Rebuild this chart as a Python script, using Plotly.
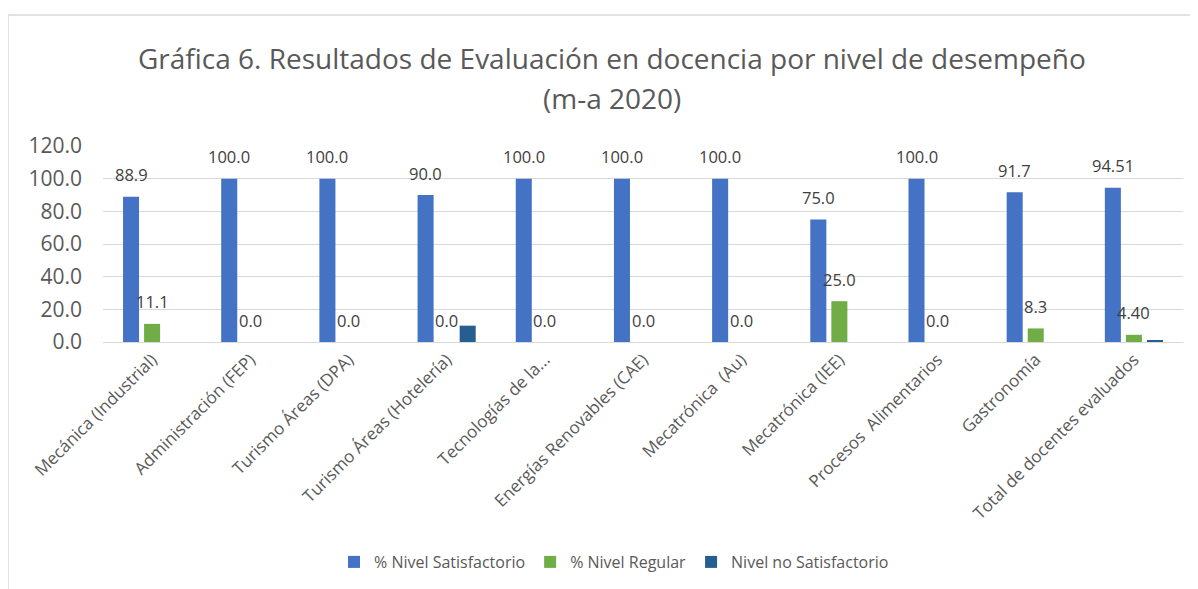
import plotly.graph_objects as go

categories = [
    "Mecánica (Industrial)", "Administración (FEP)", "Turismo Áreas (DPA)",
    "Turismo Áreas (Hotelería)", "Tecnologías de la...", "Energías Renovables (CAE)",
    "Mecatrónica  (Au)", "Mecatrónica (IEE)", "Procesos  Alimentarios",
    "Gastronomía", "Total de docentes evaluados",
]
satisfactorio = [88.9, 100.0, 100.0, 90.0, 100.0, 100.0, 100.0, 75.0, 100.0, 91.7, 94.51]
regular = [11.1, 0.0, 0.0, 0.0, 0.0, 0.0, 0.0, 25.0, 0.0, 8.3, 4.40]
no_satisfactorio = [0.0, 0.0, 0.0, 10.0, 0.0, 0.0, 0.0, 0.0, 0.0, 0.0, 1.1]
label_decimals = [1, 1, 1, 1, 1, 1, 1, 1, 1, 1, 2]
y_ticks = [0, 20, 40, 60, 80, 100, 120]

FONT = "Open Sans"
W, H = 1198, 589
OFF = 8  # page body margin
# target screenshot coordinates of plot area
PX0, PX1, PY0, PY1 = 103, 1183, 146, 342
L = PX0 - OFF
R = W - (PX1 - OFF)
T = PY0 - OFF
B = H - (PY1 - OFF)
plot_h = PY1 - PY0
plot_w = PX1 - PX0


def px_to_paper_x(px):
    return (px - PX0) / plot_w


def py_to_paper_y(py):
    return (PY1 - py) / plot_h


fig = go.Figure()
series = [
    ("% Nivel Satisfactorio", satisfactorio, "#4472C4"),
    ("% Nivel Regular", regular, "#70AD47"),
    ("Nivel no Satisfactorio", no_satisfactorio, "#255E91"),
]
for name, vals, col in series:
    fig.add_trace(go.Bar(x=categories, y=vals, name=name, marker_color=col,
                         marker_line_width=0))

cat_w = plot_w / len(categories)
bargap = 0.357
slot = cat_w * (1 - bargap) / 3

annotations = []
for si, vals in enumerate([satisfactorio, regular]):
    shift = (si - 1) * slot
    for c, v, d in zip(categories, vals, label_decimals):
        annotations.append(dict(
            x=c, y=v, xref="x", yref="y", text=f"{v:.{d}f}", showarrow=False,
            xshift=shift, yshift=22, yanchor="middle",
            font=dict(family=FONT, size=16.5, color="#404040")))

annotations.append(dict(
    x=px_to_paper_x(612), y=py_to_paper_y(98), xref="paper", yref="paper",
    xanchor="center", yanchor="middle", showarrow=False,
    text="(m-a 2020)", font=dict(family=FONT, size=28, color="#595959")))
annotations.append(dict(
    x=px_to_paper_x(612), y=py_to_paper_y(58), xref="paper", yref="paper",
    xanchor="center", yanchor="middle", showarrow=False,
    text="Gráfica 6. Resultados de Evaluación en docencia por nivel de desempeño",
    font=dict(family=FONT, size=28, color="#595959")))

fig.update_layout(
    width=W, height=H,
    margin=dict(l=L, r=R, t=T, b=B, autoexpand=False),
    paper_bgcolor="white", plot_bgcolor="white",
    barmode="group", bargap=bargap, bargroupgap=0.238,
    font=dict(family=FONT, color="#595959"),
    showlegend=True,
    legend=dict(orientation="h", x=px_to_paper_x(614), xanchor="center",
                y=py_to_paper_y(562), yanchor="middle",
                font=dict(family=FONT, size=16, color="#595959"),
                itemwidth=30, tracegroupgap=0),
    annotations=annotations,
    shapes=[
        dict(type="line", xref="paper", yref="paper",
             x0=px_to_paper_x(8), x1=px_to_paper_x(W + 20),
             y0=py_to_paper_y(15), y1=py_to_paper_y(15),
             line=dict(color="#d9d9d9", width=1.5)),
        dict(type="line", xref="paper", yref="paper",
             x0=px_to_paper_x(8), x1=px_to_paper_x(8),
             y0=py_to_paper_y(15), y1=py_to_paper_y(H + 20),
             line=dict(color="#d9d9d9", width=1.5)),
    ],
)
fig.update_yaxes(range=[0, 120], tickvals=y_ticks, tickformat=".1f",
                 gridcolor="#d9d9d9", gridwidth=1, zeroline=False, showline=False,
                 ticks="", tickfont=dict(family=FONT, size=21, color="#595959"),
                 ticklabelstandoff=20)
fig.update_xaxes(tickangle=-45, showline=True, linecolor="#d9d9d9", linewidth=1,
                 ticks="", tickfont=dict(family=FONT, size=17, color="#595959"),
                 showgrid=False)

fig.write_html("out.html")
